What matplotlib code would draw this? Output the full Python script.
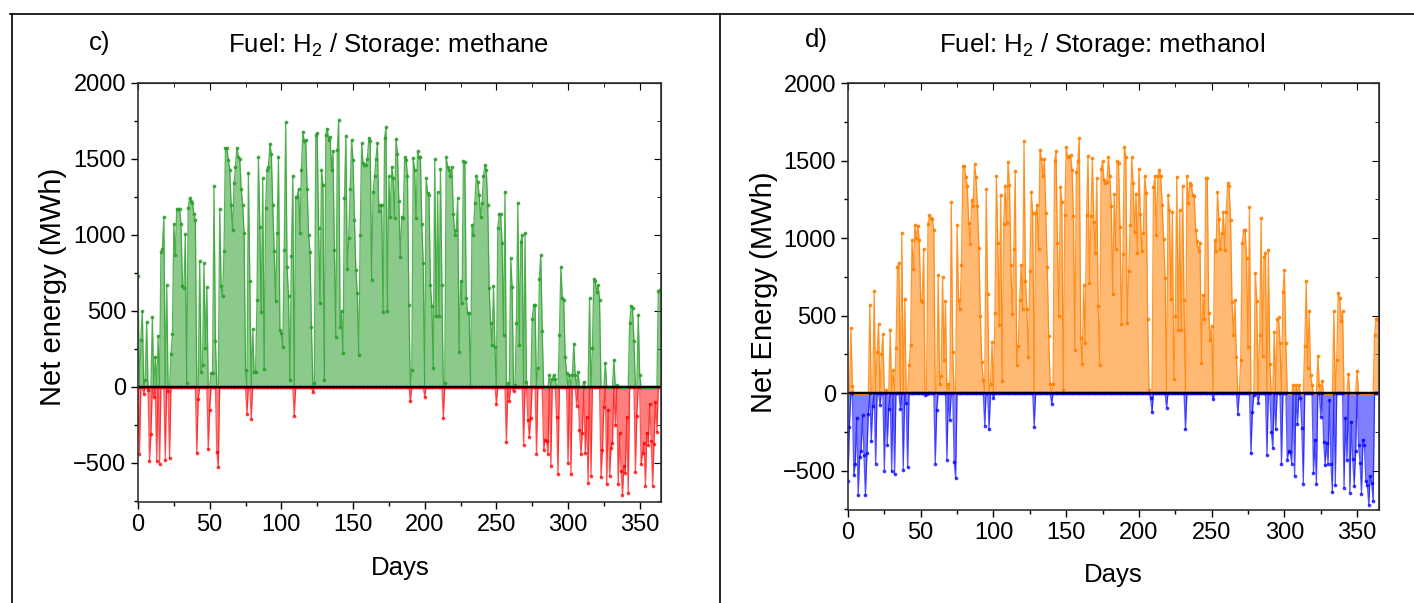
import numpy as np
import matplotlib.pyplot as plt
from matplotlib.lines import Line2D
from matplotlib.ticker import MultipleLocator

plt.rcParams['font.family'] = ['Liberation Sans', 'DejaVu Sans']
plt.rcParams['mathtext.fontset'] = 'custom'
plt.rcParams['mathtext.rm'] = 'Liberation Sans'
plt.rcParams['mathtext.default'] = 'regular'

days = np.arange(365)

# panel c: Fuel H2 / Storage methane (MWh per day)
methane = [
    730, -440, 310, 500, -45, 45, 430, -20, -485, -310,
    460, -65, 200, -490, 335, -510, 890, 910, 1120, -480,
    670, -30, -470, 215, 350, 1070, 870, 1170, 1170, 1170,
    1075, 665, 650, 1005, 25, 1175, 1245, 1220, 1210, 1140,
    1100, -435, -80, 830, 100, 145, 815, 255, 655, -410,
    -150, 90, 90, 1320, 305, -430, -530, 1170, 665, 595,
    895, 1575, 1570, 1495, 1430, 1200, 1035, 1340, 1450, 1575,
    1515, 1500, 1305, 1200, 1015, 110, -180, 1410, 700, -210,
    380, 95, 95, 570, 1510, 1050, 495, 1375, 120, 1180,
    1430, 1450, 1600, 1535, 1200, 895, 565, 1010, 1510, 375,
    355, 265, 900, 1740, 790, 595, 45, 860, 1390, -190,
    1250, 1250, 1305, 1010, 1430, 1680, 1615, 1625, 1300, 1000,
    890, 395, -35, 25, 1660, 1670, 1045, 550, 1430, 1330,
    45, 1660, 1700, 1625, 1645, 1430, 1555, 900, 330, 1560,
    1755, 395, 500, 220, 1240, 1650, 775, 980, 1300, 1625,
    1495, 1100, 770, 615, 210, 1000, 1605, 1470, 1460, 1460,
    1500, 1635, 1620, 705, 1285, 1385, 1500, 1605, 1160, 1200,
    1195, 495, 1635, 1710, 500, 1385, 1120, 1450, 1375, 1110,
    1630, 1535, 1220, 855, 1120, 1110, 1510, 1495, 1390, 540,
    -95, 110, 1505, 1430, 1110, 1550, 1510, 1515, 1075, 815,
    -65, 1375, 1275, 1265, 670, 535, 125, 1500, 465, 1280,
    465, 1435, 670, -205, 25, 1510, 1450, 1430, 1385, 1450,
    1140, 1000, 1035, 1240, 230, 695, 550, 1485, 1480, 585,
    485, 485, 0, 1065, 1000, 1210, 1390, 1350, 1265, 1120,
    1210, 1385, 1460, 1430, 1195, 650, 420, 275, 665, 265,
    -110, 1045, 1140, 1140, 945, 340, 1285, -365, 25, -95,
    845, 660, -30, 15, 420, 1210, 275, 955, 1000, -380,
    1010, 35, -215, -330, -205, 450, 540, 540, -440, 125,
    710, 870, 365, -415, -350, -355, -440, 80, -520, 55,
    80, 55, -195, -575, 340, 790, 585, 570, 200, 90,
    -500, 80, -575, 80, 285, 80, -125, 100, -285, -440,
    -305, 35, -435, -200, -630, 585, -585, 255, 710, 695,
    625, 670, 575, -595, -415, -130, 160, -640, -150, -585,
    -400, -370, 178, -250, 10, -640, -305, -555, -710, -520,
    -565, -200, -695, 420, 535, 520, 300, -560, -190, 475,
    80, -510, -435, -370, -650, -300, -380, -110, -355, -650,
    -375, -100, -295, 630, 640,
]

# panel d: Fuel H2 / Storage methanol (MWh per day)
methanol = [
    -570, -220, 420, 45, -530, -455, -160, -660, -415, -375,
    -145, -400, -660, -390, -135, 570, -310, -85, 660, -455,
    265, 445, -75, 255, 380, -500, 20, -335, -100, 405,
    -505, 150, -525, 290, 810, 840, -100, 1035, -495, 605,
    -65, -480, 180, 310, 985, 800, 1085, 1000, 1080, 990,
    600, 590, 930, -10, -5, 1090, 1150, 1130, 1120, 1055,
    -455, -110, 760, 60, 110, 750, 215, 595, -430, 60,
    -175, 1235, 265, -445, -550, 1085, 600, 540, 825, 1465,
    1465, 1395, 1335, 1100, 960, 1245, 1210, 1475, 1395, 1210,
    935, 500, 200, 85, -210, 1315, 640, -235, 60, 330,
    -30, 515, 1400, 965, 440, 1280, 75, 1090, 1335, 1100,
    1490, 1345, 825, 510, 930, 1435, 180, 305, 600, 825,
    545, 1625, 720, 540, 230, 785, 1295, 1160, -220, 1160,
    1215, 930, 1570, 1510, 1400, 1510, 1160, 815, 365, 60,
    -70, 60, 1495, 1560, 965, 495, 1330, 1235, 20, 1150,
    1585, 1520, 1530, 1535, 1440, 1145, 280, 1425, 1500, 1645,
    355, 185, 700, 325, 1150, 1530, 710, 1145, 1515, 1105,
    905, 1385, 560, 180, 1445, 1495, 1375, 1355, 1360, 1520,
    1400, 1205, 640, 1285, 930, 1495, 1485, 1070, 445, 900,
    1590, 1525, 450, 785, 1085, 1520, 1355, 1040, 1285, 905,
    1445, 1155, 915, 1030, 1400, 1290, 480, 20, -30, -125,
    1330, 1400, 1020, 1400, 1440, 1400, 1215, 995, 740, -95,
    1275, 1180, 605, 1170, 90, 495, 1395, 405, 1180, 405,
    1335, 600, -235, 1400, 1225, 1355, 1345, 1275, 1270, 1055,
    980, 915, 965, 195, 635, 480, 1385, 1385, 515, 340,
    435, -40, 985, 915, 1295, 1120, 930, 1030, 1170, 925,
    1170, 1355, 1335, 1115, 585, 375, 600, 235, -135, 0,
    215, 965, 1055, 1055, 870, 300, 1200, -390, -125, -15,
    775, 595, -65, 375, 1130, 240, 880, 905, -400, 925,
    190, -250, -355, 395, -235, 475, 490, 325, -460, 655,
    795, 320, -430, -375, -380, -455, 50, -535, 50, -200,
    50, -30, -225, -585, 305, 725, 160, 530, 115, 50,
    -515, -300, -585, 240, 50, -155, 75, -315, -465, -325,
    -455, -45, -455, -640, 530, -595, 215, 645, 610, 465,
    530, -610, -160, -435, 125, -645, -185, -425, -600, -375,
    140, -335, -450, -650, -300, -335, -570, -595, -720, -535,
    -580, -700, 375, 480, 480,
]

W, H = 1414, 603
fig = plt.figure(figsize=(W / 100, H / 100), dpi=100)


def px(x, y):
    return x / W, 1 - y / H


# table frame lines
fig.add_artist(Line2D([0.007, 1.0], [0.977, 0.977], color='black', lw=1.2, transform=fig.transFigure))
fig.add_artist(Line2D([0.0085, 0.0085], [0.0, 0.977], color='black', lw=1.2, transform=fig.transFigure))
fig.add_artist(Line2D([0.509, 0.509], [0.0, 0.977], color='black', lw=1.2, transform=fig.transFigure))


def panel(rect, values, pos_col, neg_col, ylim):
    ax = fig.add_axes(rect)
    v = np.array(values, dtype=float)
    pos = np.clip(v, 0, None)
    neg = np.clip(v, None, 0)
    ax.fill_between(days, 0, pos, color=pos_col, alpha=0.55, lw=0)
    ax.plot(days, pos, '-o', color=pos_col, alpha=0.8, lw=0.9, ms=1.7)
    ax.fill_between(days, 0, neg, color=neg_col, alpha=0.5, lw=0)
    ax.plot(days, neg, '-o', color=neg_col, alpha=0.65, lw=0.9, ms=1.7)
    ax.axhline(0, color='black', lw=1.6)
    ax.set_xlim(0, 365)
    ax.set_ylim(*ylim)
    ax.xaxis.set_major_locator(MultipleLocator(50))
    ax.xaxis.set_minor_locator(MultipleLocator(25))
    ax.yaxis.set_major_locator(MultipleLocator(500))
    ax.yaxis.set_minor_locator(MultipleLocator(250))
    ax.tick_params(which='major', direction='out', length=5, width=1, labelsize=17)
    ax.tick_params(which='minor', direction='out', length=3, width=1)
    for s in ax.spines.values():
        s.set_linewidth(1.2)
        s.set_color('#333333')
    top = ax.secondary_xaxis('top')
    top.xaxis.set_major_locator(MultipleLocator(50))
    top.xaxis.set_minor_locator(MultipleLocator(25))
    top.tick_params(which='major', direction='in', length=5, labeltop=False)
    top.tick_params(which='minor', direction='in', length=3)
    right = ax.secondary_yaxis('right')
    right.yaxis.set_major_locator(MultipleLocator(500))
    right.yaxis.set_minor_locator(MultipleLocator(250))
    right.tick_params(which='major', direction='in', length=5, labelright=False)
    right.tick_params(which='minor', direction='in', length=3)
    return ax


panel([0.0976, 0.1675, 0.37, 0.695], methane, '#2ca02c', '#ff0000', (-757, 2000))
panel([0.5997, 0.1542, 0.3755, 0.708], methanol, '#ff8000', '#0000ff', (-755, 2000))

# panel c texts
fig.text(*px(100, 43), 'c)', fontsize=18.5, ha='center', va='center')
fig.text(*px(388, 45), 'Fuel: H$_2$ / Storage: methane', fontsize=18.5, ha='center', va='center')
fig.text(*px(53, 287), 'Net energy (MWh)', fontsize=21, rotation=90, ha='center', va='center')
fig.text(*px(400, 568), 'Days', fontsize=18.5, ha='center', va='center')

# panel d texts
fig.text(*px(816, 40), 'd)', fontsize=18.5, ha='center', va='center')
fig.text(*px(1102, 45), 'Fuel: H$_2$ / Storage: methanol', fontsize=18.5, ha='center', va='center')
fig.text(*px(764, 292), 'Net Energy (MWh)', fontsize=21, rotation=90, ha='center', va='center')
fig.text(*px(1113, 575), 'Days', fontsize=18.5, ha='center', va='center')

fig.savefig('out.png', dpi=100)
